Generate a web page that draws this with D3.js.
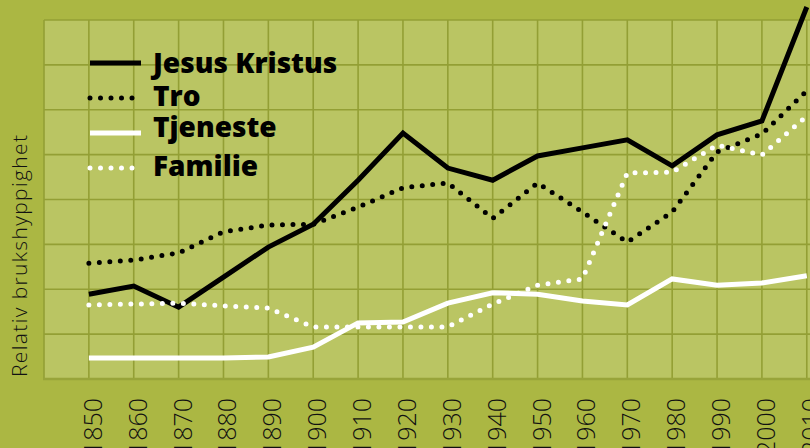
<!DOCTYPE html>
<html><head><meta charset="utf-8">
<script src="https://cdn.jsdelivr.net/npm/d3@7"></script>
<style>
html,body{margin:0;padding:0;background:#abb743;}
svg{display:block;}
</style></head>
<body>
<svg id="chart" width="810" height="448"></svg>
<script>
const years = [1850,1860,1870,1880,1890,1900,1910,1920,1930,1940,1950,1960,1970,1980,1990,2000,2010];
const tickLabels = ["1850","1860","1870","1880","1890","1900","1910","1920","1930","1940","1950","1960","1970","1980","1990","2000","2010"];
const seriesNames = ["Jesus Kristus","Tro","Tjeneste","Familie"];
const jesusKristus = [1.89,2.07,1.60,2.27,2.94,3.45,4.43,5.48,4.70,4.43,4.97,5.15,5.33,4.75,5.44,5.75,8.29];
const tro          = [2.58,2.65,2.81,3.28,3.43,3.45,3.83,4.26,4.37,3.58,4.37,3.72,3.05,3.72,5.06,5.46,6.42];
const tjeneste     = [0.47,0.47,0.47,0.47,0.49,0.71,1.25,1.27,1.69,1.92,1.89,1.74,1.65,2.23,2.09,2.14,2.30];
const familie      = [1.65,1.67,1.69,1.63,1.58,1.16,1.16,1.16,1.16,1.67,2.09,2.23,4.59,4.61,5.21,4.99,5.86];
const yLabel = "Relativ brukshyppighet";

(function(){
const svg = d3.select("#chart");
const W = 810, H = 448;
const pLeft = 44, pTop = 20, pBottom = 379;
const step = 44.87;
const x = d3.scaleLinear().domain([1840, 2020]).range([pLeft, pLeft + 18*step]);
const y = d3.scaleLinear().domain([0, 8]).range([pBottom, pTop]);

svg.append("rect").attr("width", W).attr("height", H).attr("fill", "#abb743");
svg.append("rect").attr("x", pLeft).attr("y", pTop)
  .attr("width", x(2020) - pLeft).attr("height", pBottom - pTop).attr("fill", "#bac563");

const gridColor = "#939f35";
const g = svg.append("g");
d3.range(1840, 2021, 10).forEach(v => {
  g.append("line").attr("x1", x(v)).attr("x2", x(v)).attr("y1", pTop).attr("y2", pBottom)
   .attr("stroke", gridColor).attr("stroke-width", 1.6);
});
d3.range(0, 9, 1).forEach(v => {
  g.append("line").attr("x1", pLeft).attr("x2", x(2020)).attr("y1", y(v)).attr("y2", y(v))
   .attr("stroke", gridColor).attr("stroke-width", 1.6);
});
svg.append("line").attr("x1", pLeft-1).attr("x2", x(2020)).attr("y1", pBottom).attr("y2", pBottom)
  .attr("stroke", "#98a43a").attr("stroke-width", 2.5);

// x axis labels
const xAxis = d3.axisBottom(x).tickValues(years).tickFormat((d,i) => tickLabels[i]).tickSize(0);
const ax = svg.append("g").attr("transform", `translate(0,${pBottom})`).call(xAxis);
ax.select(".domain").remove();
ax.selectAll("text")
  .attr("font-family", "'Open Sans', sans-serif").attr("font-weight", 300)
  .attr("font-size", 25).attr("fill", "#111")
  .attr("text-anchor", "end").attr("dy", "0.5em").attr("dx", 0).attr("y", 0)
  .attr("transform", "translate(0,19) rotate(-90)");

// y label
svg.append("text").attr("transform", "translate(27,377) rotate(-90)")
  .attr("font-family", "'Open Sans', sans-serif").attr("font-weight", 300)
  .attr("font-size", 21).attr("fill", "#111")
  .attr("textLength", 242).attr("lengthAdjust", "spacing").text(yLabel);

const line = d3.line().x((d,i) => x(years[i])).y(d => y(d));
const styles = [
  {data: jesusKristus, color: "#000", dash: null},
  {data: tro, color: "#000", dash: "0 10.5"},
  {data: tjeneste, color: "#fff", dash: null},
  {data: familie, color: "#fff", dash: "0 10.5"}
];
const drawOrder = [2, 0, 1, 3];
drawOrder.forEach(k => {
  const s = styles[k];
  const p = svg.append("path").attr("d", line(s.data)).attr("fill", "none")
    .attr("stroke", s.color).attr("stroke-width", 5);
  if (s.dash) p.attr("stroke-dasharray", s.dash).attr("stroke-linecap", "round").attr("stroke-linejoin", "round");
  else p.attr("stroke-linejoin", "miter").attr("stroke-linecap", "butt");
});

// legend
const legY = [63, 98, 133, 168];
const textY = [72.5, 105.5, 137, 176];
seriesNames.forEach((n, i) => {
  const s = styles[i];
  const l = svg.append("line").attr("x1", 90).attr("x2", s.dash ? 142 : 141)
    .attr("y1", legY[i]).attr("y2", legY[i]).attr("stroke", s.color).attr("stroke-width", 5);
  if (s.dash) l.attr("stroke-dasharray", s.dash).attr("stroke-linecap", "round");
  svg.append("text").attr("x", 153).attr("y", textY[i])
    .attr("font-family", "'Open Sans', sans-serif").attr("font-weight", 800)
    .attr("font-size", 28).attr("fill", "#000").text(n);
});
})();
</script>
</body></html>
